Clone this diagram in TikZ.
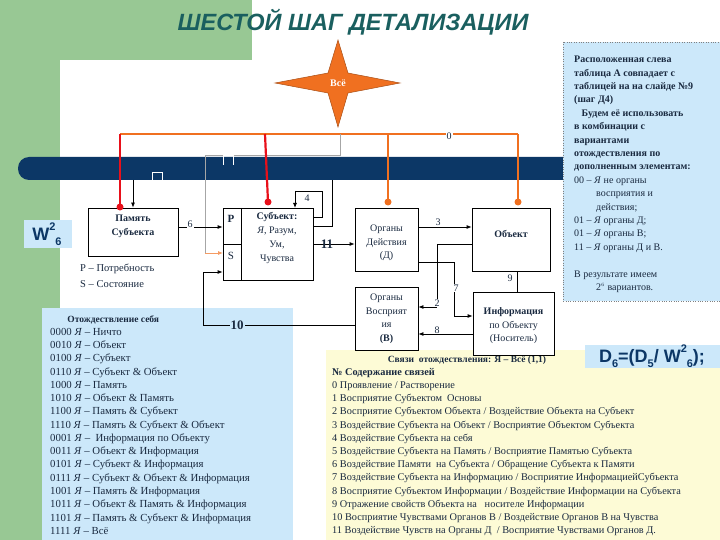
\documentclass[tikz,border=0pt]{standalone}
\usepackage{fontspec}
\setmainfont{Liberation Serif}
\newfontfamily\hdr{Liberation Sans}
\usetikzlibrary{arrows.meta}
\definecolor{grn}{HTML}{98C894}
\definecolor{navy}{HTML}{0C3766}
\definecolor{lblue}{HTML}{CCE8FA}
\definecolor{lyel}{HTML}{FDFBD6}
\definecolor{redl}{HTML}{E8101A}
\definecolor{orl}{HTML}{F07020}
\definecolor{teal}{HTML}{1A5F5F}
\definecolor{txt}{HTML}{1A2A40}
\newcommand{\supx}[1]{\raisebox{0.55em}{\fontsize{11}{11}\selectfont #1}}
\newcommand{\subx}[1]{\raisebox{-0.3em}{\fontsize{11}{11}\selectfont #1}}
\tikzset{
  box/.style={draw=black,thick,fill=white,inner sep=0pt},
  lbl/.style={font=\fontsize{10}{11}\selectfont,inner sep=1pt,text=txt},
  conn/.style={thick,black},
  arr/.style={thick,black,-{Latex[length=5pt,width=4pt]}},
  redw/.style={line width=2.2pt,redl},
  orw/.style={line width=2pt,orl},
  dotr/.style={circle,fill=#1,inner sep=0pt,minimum size=7pt},
  thin/.style={draw=gray!70,line width=0.6pt},
}
\begin{document}
\begin{tikzpicture}[x=1pt,y=-1pt]
\useasboundingbox (0,0) rectangle (720,540);
% background
\fill[grn] (0,0) rectangle (252,60);
\fill[grn] (0,0) rectangle (60,540);
\fill[white] (60,85) arc[start angle=180,end angle=90,radius=25] -- (252,60) -- (252,540) -- (60,540) -- cycle;
\node[font=\hdr\bfseries\itshape\fontsize{23.5}{25}\selectfont,text=teal] (title) at (353,22) {ШЕСТОЙ ШАГ ДЕТАЛИЗАЦИИ};
% blue bar
\fill[navy,rounded corners=11pt] (18,157) rectangle (600,180);
% star
\fill[orl,draw=orl!70!black,line width=0.5pt] (338,40) -- (348,73) -- (400,83) -- (348,93) -- (338,127) -- (328,93) -- (275,83) -- (328,73) -- cycle;
\node[font=\bfseries\fontsize{10}{11}\selectfont,text=white] (star) at (338,83) {Всё};
% orange line 0
\coordinate (o0) at (120,134);
\coordinate (o1) at (518,134);
\draw[orw] (o0) -- (o1);
% thin grey path
\coordinate (g1) at (340,134);
\coordinate (g2) at (340,155);
\coordinate (g3) at (205,155);
\coordinate (g4) at (205,253);
\draw[thin] (g1) -- (g2) -- (g3) -- (g4);
% squares
\draw[white,line width=0.8pt] (223,165) -- (223,155) -- (233,155) -- (233,165);
\draw[white,line width=0.8pt] (152,182) -- (152,172) -- (162,172) -- (162,182) -- cycle;
% W label
\fill[lblue] (24,220) rectangle (72,248);
\node[font=\hdr\bfseries\fontsize{18}{19}\selectfont,text=navy] (W) at (47,234) {W\supx{2}\subx{6}};
% right panel
\fill[lblue,draw=gray,dotted] (563,42) rectangle (720,301);
\node[anchor=north west,align=left,font=\fontsize{10}{13.4}\selectfont,text=txt,inner sep=0pt] (rp) at (574,56) {\textbf{Расположенная слева}\\\textbf{таблица А совпадает с}\\\textbf{таблицей на на слайде №9}\\\textbf{(шаг Д4)}\\\textbf{\ \ \ Будем её использовать}\\\textbf{в комбинации с}\\\textbf{вариантами}\\\textbf{отождествления по}\\\textbf{дополненным элементам:}\\00 – \textit{Я} не органы\\\hspace{2.2em}восприятия и\\\hspace{2.2em}действия;\\01 – \textit{Я} органы Д;\\01 – \textit{Я} органы В;\\11 – \textit{Я} органы Д и В.\\[13.4pt]В результате имеем\\\hspace{2.2em}2$^{\scriptscriptstyle 6}$ вариантов.};
% lower left table
\fill[lblue] (42,308) rectangle (293,540);
\node[anchor=north west,align=left,font=\fontsize{10.8}{13.27}\selectfont,text=txt,inner sep=0pt] (lt) at (50,315) {\hspace{1.6em}\textbf{\fontsize{9.5}{10}\selectfont Отождествление себя}\\0000 \textit{Я} – Ничто\\0010 \textit{Я} – Объект\\0100 \textit{Я} – Субъект\\0110 \textit{Я} – Субъект \& Объект\\1000 \textit{Я} – Память\\1010 \textit{Я} – Объект \& Память\\1100 \textit{Я} – Память \& Субъект\\1110 \textit{Я} – Память \& Субъект \& Объект\\0001 \textit{Я} –\ \ Информация по Объекту\\0011 \textit{Я} – Объект \& Информация\\0101 \textit{Я} – Субъект \& Информация\\0111 \textit{Я} – Субъект \& Объект \& Информация\\1001 \textit{Я} – Память \& Информация\\1011 \textit{Я} – Объект \& Память \& Информация\\1101 \textit{Я} – Память \& Субъект \& Информация\\1111 \textit{Я} – Всё};
% lower right yellow
\fill[lyel] (326,350) rectangle (720,540);
\fill[lblue] (585,345) rectangle (720,368);
\node[font=\hdr\bfseries\fontsize{18}{19}\selectfont,text=navy] (D) at (652,356) {D\subx{6}=(D\subx{5}/ W\supx{2}\subx{6});};
\node[font=\bfseries\fontsize{9.5}{10}\selectfont,text=txt] (rt) at (467,360) {Связи\ \ отождествления: Я – Всё (1,1)};
\node[anchor=north west,align=left,font=\fontsize{10.3}{13.2}\selectfont,text=txt,inner sep=0pt] (rl) at (332,368) {\textbf{№ Содержание связей}\\0 Проявление / Растворение\\1 Восприятие Субъектом\ \ Основы\\2 Восприятие Субъектом Объекта / Воздействие Объекта на Субъект\\3 Воздействие Субъекта на Объект / Восприятие Объектом Субъекта\\4 Воздействие Субъекта на себя\\5 Воздействие Субъекта на Память / Восприятие Памятью Субъекта\\6 Воздействие Памяти\ \ на Субъекта / Обращение Субъекта к Памяти\\7 Воздействие Субъекта на Информацию / Восприятие ИнформациейСубъекта\\8 Восприятие Субъектом Информации / Воздействие Информации на Субъекта\\9 Отражение свойств Объекта на\ \ \ носителе Информации\\10 Восприятие Чувствами Органов В / Воздействие Органов В на Чувства\\11 Воздействие Чувств на Органы Д\ \ / Восприятие Чувствами Органов Д.};
% boxes
\node[box,minimum width=90pt,minimum height=48pt] (mem) at (133,232) {};
\node[lbl,align=center,font=\bfseries\fontsize{10}{14}\selectfont] (memt) at (133,226) {Память\\Субъекта};
\node[anchor=north west,align=left,font=\fontsize{10.5}{16}\selectfont,text=txt,inner sep=0pt] (ps) at (80,264) {P – Потребность\\S – Состояние};
\node[box,minimum width=90pt,minimum height=72pt] (sub) at (268,244) {};
\draw[thick] (241,208) -- (241,280);
\draw[thick] (223,244) -- (241,244);
\node[lbl,font=\bfseries\fontsize{11}{12}\selectfont] (P) at (231,219) {P};
\node[lbl,font=\fontsize{11}{12}\selectfont] (S) at (231,256) {S};
\node[lbl,align=center,font=\fontsize{10}{14}\selectfont,anchor=north] (subt) at (277,211) {\textbf{Субъект:}\\\textit{Я}, Разум,\\Ум,\\Чувства};
\node[box,minimum width=63pt,minimum height=63pt] (od) at (386.5,239.5) {};
\node[lbl,align=center,font=\fontsize{10}{13.5}\selectfont] (odt) at (386.5,243) {Органы\\Действия\\(Д)};
\node[box,minimum width=78pt,minimum height=63pt] (obj) at (511,239.5) {};
\node[lbl,font=\bfseries\fontsize{10}{11}\selectfont] (objt) at (511,234) {Объект};
\node[box,minimum width=63pt,minimum height=63pt] (ov) at (386.5,318.5) {};
\node[lbl,align=center,font=\fontsize{10}{13.5}\selectfont] (ovt) at (386.5,319) {Органы\\Восприят\\ия\\\textbf{(В)}};
\node[box,minimum width=81pt,minimum height=63pt] (inf) at (513.5,323.5) {};
\node[lbl,align=center,font=\fontsize{10}{13.5}\selectfont] (inft) at (513.5,326) {\textbf{Информация}\\по Объекту\\(Носитель)};
% orange & red drops
\draw[redw] (120,134) -- (120,207);
\node[dotr=redl] (rd1) at (120,207) {};
\draw[redw] (265,134) -- (268,202);
\node[dotr=redl] (rd2) at (268,202) {};
\draw[orw] (388,134) -- (388,202);
\node[dotr=orl] (od1) at (388,202) {};
\draw[orw] (518,134) -- (518,202);
\node[dotr=orl] (od2) at (518,202) {};
\node[lbl,fill=white] (n0) at (449,136) {0};
% grey arrow to S
\draw[orl!70,line width=0.8pt,-{Latex[length=5pt,width=4pt]}] (g4) -- (223,253);
% black arrows
\coordinate (m0) at (133,180);
\draw[arr] (m0) -- (mem.north -| m0);
\draw[arr] (mem.east |- 0,227) -- (sub.west |- 0,227);
\node[lbl,fill=white] (n6) at (190,224) {6};
\draw[conn] (313,217) -- (322,217) -- (322,191) -- (295,191);
\draw[arr] (295,191) -- (295,208);
\node[lbl] (n4) at (307,198) {4};
\draw[conn] (313,226) -- (332,226) -- (332,180);
\draw[arr] (313,244) -- (od.west |- 0,244);
\node[lbl,font=\bfseries\fontsize{13}{13}\selectfont] (n11) at (327,244) {11};
\draw[arr] (od.east |- 0,227) -- (obj.west |- 0,227);
\node[lbl] (n3) at (438,222) {3};
\draw[conn] (obj.west |- 0,244) -- (437,244) -- (437,307);
\draw[arr] (437,307) -- (ov.east |- 0,307);
\node[lbl,fill=white] (n2) at (437,303) {2};
\draw[conn] (od.east |- 0,262) -- (454,262) -- (454,316);
\draw[arr] (454,316) -- (inf.west |- 0,316);
\node[lbl,fill=white] (n7) at (456,288) {7};
\draw[conn] (517,271) -- (517,292);
\node[lbl] (n9) at (510,278) {9};
\draw[arr] (inf.west |- 0,334) -- (ov.east |- 0,334);
\node[lbl] (n8) at (437,330) {8};
\draw[conn] (ov.west |- 0,325) -- (203,325) -- (203,272);
\draw[arr] (203,272) -- (sub.west |- 0,272);
\node[lbl,fill=lblue,font=\bfseries\fontsize{13}{13}\selectfont] (n10) at (237,325) {10};
\end{tikzpicture}
\end{document}
